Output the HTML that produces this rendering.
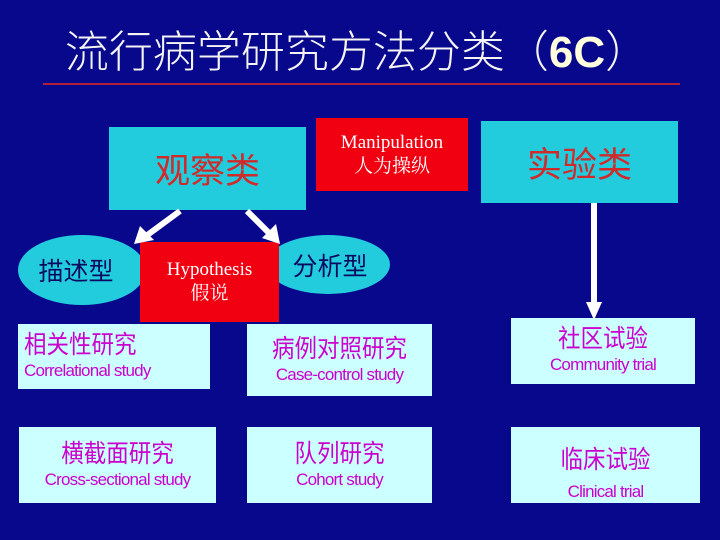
<!DOCTYPE html>
<html><head><meta charset="utf-8"><style>
body{margin:0;width:720px;height:540px;background:#08088c;position:relative;overflow:hidden;font-family:"Liberation Sans","Noto Sans CJK SC",sans-serif}
div{position:absolute;box-sizing:border-box}
.t{background:#22ccdd;color:#d02a2a;font-size:35px;display:flex;align-items:center;justify-content:center}
.r{background:#f00010;color:#fff;font-family:"Liberation Serif","Noto Serif CJK SC",serif;font-size:19px;text-align:center;line-height:24px;display:flex;flex-direction:column;justify-content:center}
.e{background:#22ccdd;border-radius:50%;color:#0a0a60;font-size:25px;display:flex;align-items:center;justify-content:center}
.b{background:#ccffff;color:#cc00cc;text-align:center}
.b .c{font-size:25px;line-height:30px;transform:scaleX(0.9)}
.b .en{font-size:17px;line-height:22px;letter-spacing:-0.8px}
</style></head><body>
<div style="left:0;top:18px;width:720px;text-align:center;color:#f4f4f4;font-size:44px;line-height:60px;font-family:'Noto Sans CJK SC',sans-serif;font-weight:300;padding-right:6px">流行病学研究方法分类（<b style="font-family:'Liberation Sans';font-weight:bold;color:#ffffdd">6C</b>）</div>
<div style="left:43px;top:83px;width:637px;height:2px;background:#b0203a"></div>

<div class="t" style="left:109px;top:127px;width:197px;height:83px">观察类</div>
<div class="r" style="left:316px;top:118px;width:152px;height:73px"><span>Manipulation</span><span>人为操纵</span></div>
<div class="t" style="left:481px;top:121px;width:197px;height:82px">实验类</div>

<div class="e" style="left:18px;top:235px;width:128px;height:70px;padding-right:12px">描述型</div>
<div class="e" style="left:266px;top:235px;width:124px;height:59px;padding-left:4px">分析型</div>
<div class="r" style="left:140px;top:242px;width:139px;height:80px"><span>Hypothesis</span><span>假说</span></div>

<svg style="position:absolute;left:0;top:0" width="720" height="540">
<g stroke="#fff" stroke-width="6" fill="#fff">
<line x1="180" y1="211" x2="146" y2="236"/>
<line x1="247" y1="211" x2="270" y2="234"/>
<line x1="594" y1="203" x2="594" y2="304"/>
</g>
<polygon points="134,244 140,226 154,240" fill="#fff"/>
<polygon points="280,244 262,238 276,224" fill="#fff"/>
<polygon points="594,320 586,302 602,302" fill="#fff"/>
</svg>

<div class="b" style="left:18px;top:324px;width:192px;height:65px;text-align:left;padding:6px 0 0 6px"><div class="c" style="position:static;transform-origin:left">相关性研究</div><div class="en" style="position:static">Correlational study</div></div>
<div class="b" style="left:247px;top:324px;width:185px;height:72px;padding-top:10px"><div class="c" style="position:static">病例对照研究</div><div class="en" style="position:static">Case-control study</div></div>
<div class="b" style="left:511px;top:318px;width:184px;height:66px;padding-top:6px"><div class="c" style="position:static">社区试验</div><div class="en" style="position:static">Community trial</div></div>
<div class="b" style="left:19px;top:427px;width:197px;height:76px;padding-top:12px"><div class="c" style="position:static">横截面研究</div><div class="en" style="position:static">Cross-sectional study</div></div>
<div class="b" style="left:247px;top:427px;width:185px;height:76px;padding-top:12px"><div class="c" style="position:static">队列研究</div><div class="en" style="position:static">Cohort study</div></div>
<div class="b" style="left:511px;top:427px;width:189px;height:76px;padding-top:18px"><div class="c" style="position:static">临床试验</div><div class="en" style="position:static;margin-top:6px">Clinical trial</div></div>
</body></html>
